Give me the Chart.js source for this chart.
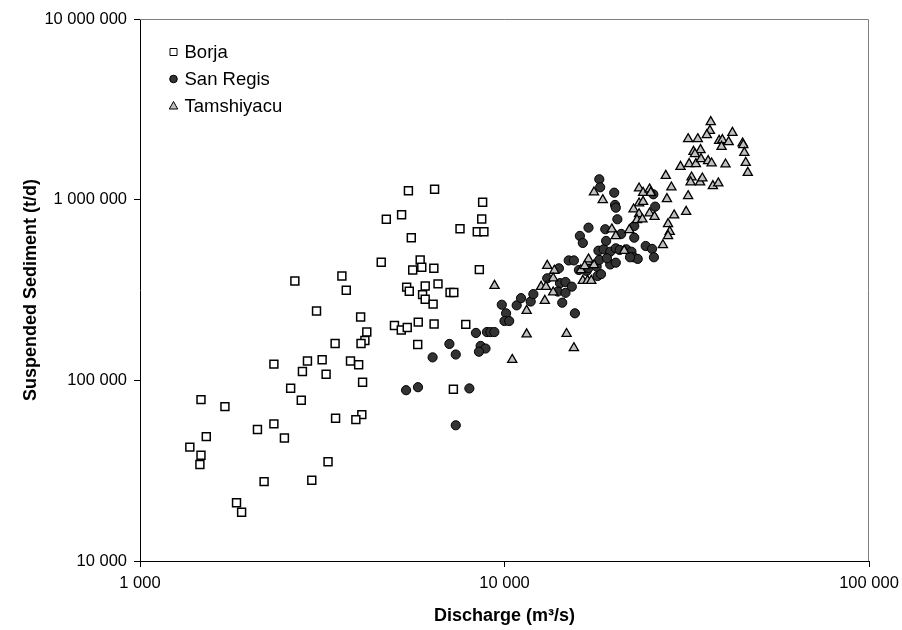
<!DOCTYPE html>
<html>
<head>
<meta charset="utf-8">
<title>Suspended Sediment vs Discharge</title>
<script src="https://cdn.jsdelivr.net/npm/chart.js@4.4.0/dist/chart.umd.min.js"></script>
<style>
  html, body { margin: 0; padding: 0; background: #fff; }
</style>
</head>
<body>
<canvas id="myChart" width="902" height="630"></canvas>
<script>
// values (discharge m3/s, sediment t/d)
const borjaQ = [2660, 3580, 3050, 3430, 2330, 2880, 3160, 2790, 3240, 2590, 2770, 3440, 1470, 1710, 2330, 2100, 2490, 1520, 1370, 1470, 1460, 3280, 2190, 2960, 1840, 1900,
  5450, 6430, 8710, 4740, 5220, 8660, 7550, 8420, 8780, 5550, 4590, 5870, 5600, 5930, 6400, 8530, 3680, 5390, 5480, 6060, 6570, 5960, 6060, 6370, 7090, 7260,
  4030, 4190, 4140, 4040, 4990, 5210, 5410, 5800, 6410, 7830, 5780, 3780, 3980, 4080, 4060, 3910, 7240]
const borjaSed = [355000, 378000, 242000, 160000, 123000, 128000, 130000, 112000, 108000, 90400, 77600, 61700, 78200, 71500, 57400, 53400, 48000, 48800, 42700, 38500, 34200, 35400, 27500, 28000, 21000, 18600,
  1121000, 1142000, 967000, 779000, 826000, 782000, 691000, 665000, 665000, 616000, 450000, 464000, 408000, 423000, 417000, 410000, 315000, 328000, 311000, 333000, 342000, 298000, 281000, 264000, 306000, 306000,
  224000, 185000, 166000, 160000, 201000, 190000, 196000, 210000, 205000, 204000, 158000, 128000, 122000, 97600, 64600, 60600, 89300]

const sanRegisQ = [8350, 8950, 9150, 9380, 7060, 7350, 6350, 8600, 8870, 8510, 5370, 5790, 8010, 7350, 9830, 10100, 10000, 10300, 10800, 11100, 11800, 12000, 13100, 14100,
  15000, 15500, 14200, 14700, 15300, 14000, 14700, 14400, 15600, 16000, 16800, 17000, 17900, 18000, 18400, 19500, 20200, 18100, 18700, 19500, 20200, 20700, 21600, 22300,
  22600, 23200, 22100, 18200, 19100, 18200, 18300, 20000, 20100, 20200, 20400, 17000, 16100, 16400, 18900, 19000, 20900, 22700, 22700, 25900, 25600, 24400, 25400, 25700]
const sanRegisSed = [183000, 185000, 185000, 185000, 159000, 139000, 134000, 155000, 150000, 144000, 88200, 91600, 90200, 56400, 262000, 235000, 213000, 213000, 260000, 285000, 273000, 300000, 367000, 417000,
  461000, 461000, 345000, 350000, 330000, 310000, 305000, 269000, 235000, 408000, 403000, 419000, 426000, 378000, 387000, 438000, 448000, 522000, 531000, 515000, 538000, 527000, 531000, 515000,
  480000, 470000, 480000, 464000, 474000, 1297000, 1171000, 1093000, 935000, 903000, 779000, 700000, 630000, 576000, 686000, 591000, 646000, 715000, 616000, 915000, 1071000, 554000, 534000, 480000]

const tamshQ = [9390, 13100, 13700, 12600, 13000, 13600, 13600, 12900, 11500, 11500, 10500, 14800, 15500, 16400, 16900, 17300, 16200, 16900, 17600, 17600, 18600,
  23400, 24000, 25000, 25200, 23400, 24000, 22600, 23400, 23100, 23900, 25000, 25800, 27700, 28700, 27900, 30400, 32100, 33500, 34600, 36200, 37000, 32600, 32400,
  34400, 34900, 37300, 38600, 31900, 31500, 29200, 28100, 28400, 28100, 27200, 19700, 20200, 22000, 21300, 17000, 16600,
  36800, 36600, 35900, 31900, 33900, 42200, 38800, 39600, 39400, 41200, 45000, 45200, 45500, 33000, 34500, 33300, 40400, 45900, 46500]
const tamshSed = [334000, 431000, 405000, 330000, 330000, 367000, 307000, 276000, 243000, 180000, 130000, 181000, 151000, 356000, 356000, 356000, 408000, 454000, 435000, 1099000, 996000,
  1156000, 1093000, 1142000, 1093000, 955000, 975000, 885000, 833000, 772000, 779000, 841000, 805000, 1358000, 1171000, 1009000, 1522000, 1576000, 1576000, 1680000, 1638000, 1590000, 1330000, 1249000,
  1249000, 1313000, 1191000, 1233000, 1048000, 858000, 820000, 734000, 665000, 630000, 561000, 686000, 630000, 680000, 522000, 468000, 430000,
  2692000, 2409000, 2281000, 2167000, 2167000, 2349000, 2121000, 2140000, 1965000, 2086000, 2052000, 2008000, 1820000, 1843000, 1884000, 1790000, 1570000, 1602000, 1411000]

const xTicks = [1000, 10000, 100000]
const yTicks = [10000, 100000, 1000000, 10000000]

const FONT = '"Liberation Sans", Arial, sans-serif'

function pairs(xs, ys) {
  return xs.map((x, i) => ({ x: x, y: ys[i] }))
}
function spaced(v) {
  return String(v).replace(/\B(?=(\d{3})+(?!\d))/g, ' ')
}

// legend drawn inside the plot, top left, one entry per row
const insideLegend = {
  id: 'insideLegend',
  afterDraw(chart) {
    const ctx = chart.ctx
    const a = chart.chartArea
    ctx.save()
    ctx.font = '18.5px ' + FONT
    ctx.textBaseline = 'middle'
    chart.data.datasets.forEach((ds, i) => {
      const x = a.left + 33.5
      const y = a.top + 33 + i * 27
      ctx.lineWidth = 1
      ctx.strokeStyle = '#000'
      ctx.fillStyle = ds.backgroundColor
      ctx.beginPath()
      if (ds.pointStyle === 'rect') {
        ctx.rect(x - 3.5, y - 3.5, 7, 7)
      } else if (ds.pointStyle === 'circle') {
        ctx.arc(x, y, 3.8, 0, Math.PI * 2)
      } else {
        ctx.moveTo(x, y - 4.5)
        ctx.lineTo(x + 4.2, y + 3)
        ctx.lineTo(x - 4.2, y + 3)
        ctx.closePath()
      }
      ctx.fill()
      ctx.stroke()
      ctx.fillStyle = '#000'
      ctx.fillText(ds.label, x + 11, y + 1)
    })
    ctx.restore()
  }
}

// grey frame on the top and right of the plot area
const plotFrame = {
  id: 'plotFrame',
  beforeDatasetsDraw(chart) {
    const ctx = chart.ctx
    const a = chart.chartArea
    ctx.save()
    ctx.strokeStyle = '#808080'
    ctx.lineWidth = 1
    ctx.beginPath()
    ctx.moveTo(a.left, Math.round(a.top) + 0.5)
    ctx.lineTo(Math.round(a.right) - 0.5, Math.round(a.top) + 0.5)
    ctx.lineTo(Math.round(a.right) - 0.5, a.bottom)
    ctx.stroke()
    ctx.restore()
  }
}

const ctx = document.getElementById('myChart').getContext('2d')
const myChart = new Chart(ctx, {
  type: 'scatter',
  data: {
    datasets: [{
      label: 'Borja',
      data: pairs(borjaQ, borjaSed),
      pointStyle: 'rect',
      pointRadius: 5.6,
      backgroundColor: '#ffffff',
      borderColor: '#000000',
      borderWidth: 1.5,
      order: 3
    }, {
      label: 'San Regis',
      data: pairs(sanRegisQ, sanRegisSed),
      pointStyle: 'circle',
      pointRadius: 4.6,
      backgroundColor: '#333333',
      borderColor: '#000000',
      borderWidth: 1,
      order: 2
    }, {
      label: 'Tamshiyacu',
      data: pairs(tamshQ, tamshSed),
      pointStyle: 'triangle',
      pointRadius: 5.3,
      backgroundColor: '#c0c0c0',
      borderColor: '#000000',
      borderWidth: 1.3,
      order: 1
    }]
  },
  options: {
    responsive: false,
    animation: false,
    events: [],
    layout: { padding: { top: 19, right: 33, left: 0, bottom: 0 } },
    plugins: {
      legend: { display: false },
      tooltip: { enabled: false }
    },
    scales: {
      x: {
        type: 'logarithmic',
        min: 1000,
        max: 100000,
        afterBuildTicks: s => { s.ticks = xTicks.map(v => ({ value: v })) },
        afterFit: s => {
          s.height = 69
          s.paddingRight = 0
          s.paddingLeft = 0
        },
        ticks: {
          callback: v => spaced(v),
          color: '#000',
          font: { family: FONT, size: 16.5 },
          padding: 7,
          maxRotation: 0,
          autoSkip: false
        },
        grid: { drawOnChartArea: false, drawTicks: true, tickLength: 6, color: '#000' },
        border: { color: '#000', width: 1 },
        title: {
          display: true,
          text: 'Discharge (m³/s)',
          color: '#000',
          font: { family: FONT, size: 18, weight: 'bold' },
          padding: { top: 0, bottom: 3 }
        }
      },
      y: {
        type: 'logarithmic',
        min: 10000,
        max: 10000000,
        afterBuildTicks: s => { s.ticks = yTicks.map(v => ({ value: v })) },
        afterFit: s => { s.width = 140 },
        ticks: {
          callback: v => spaced(v),
          color: '#000',
          font: { family: FONT, size: 16.5 },
          padding: 7,
          autoSkip: false
        },
        grid: { drawOnChartArea: false, drawTicks: true, tickLength: 6, color: '#000' },
        border: { color: '#000', width: 1 },
        title: {
          display: true,
          text: 'Suspended Sediment (t/d)',
          color: '#000',
          font: { family: FONT, size: 18, weight: 'bold' },
          padding: { top: 20, bottom: 0 }
        }
      }
    }
  },
  plugins: [plotFrame, insideLegend]
})
</script>
</body>
</html>
